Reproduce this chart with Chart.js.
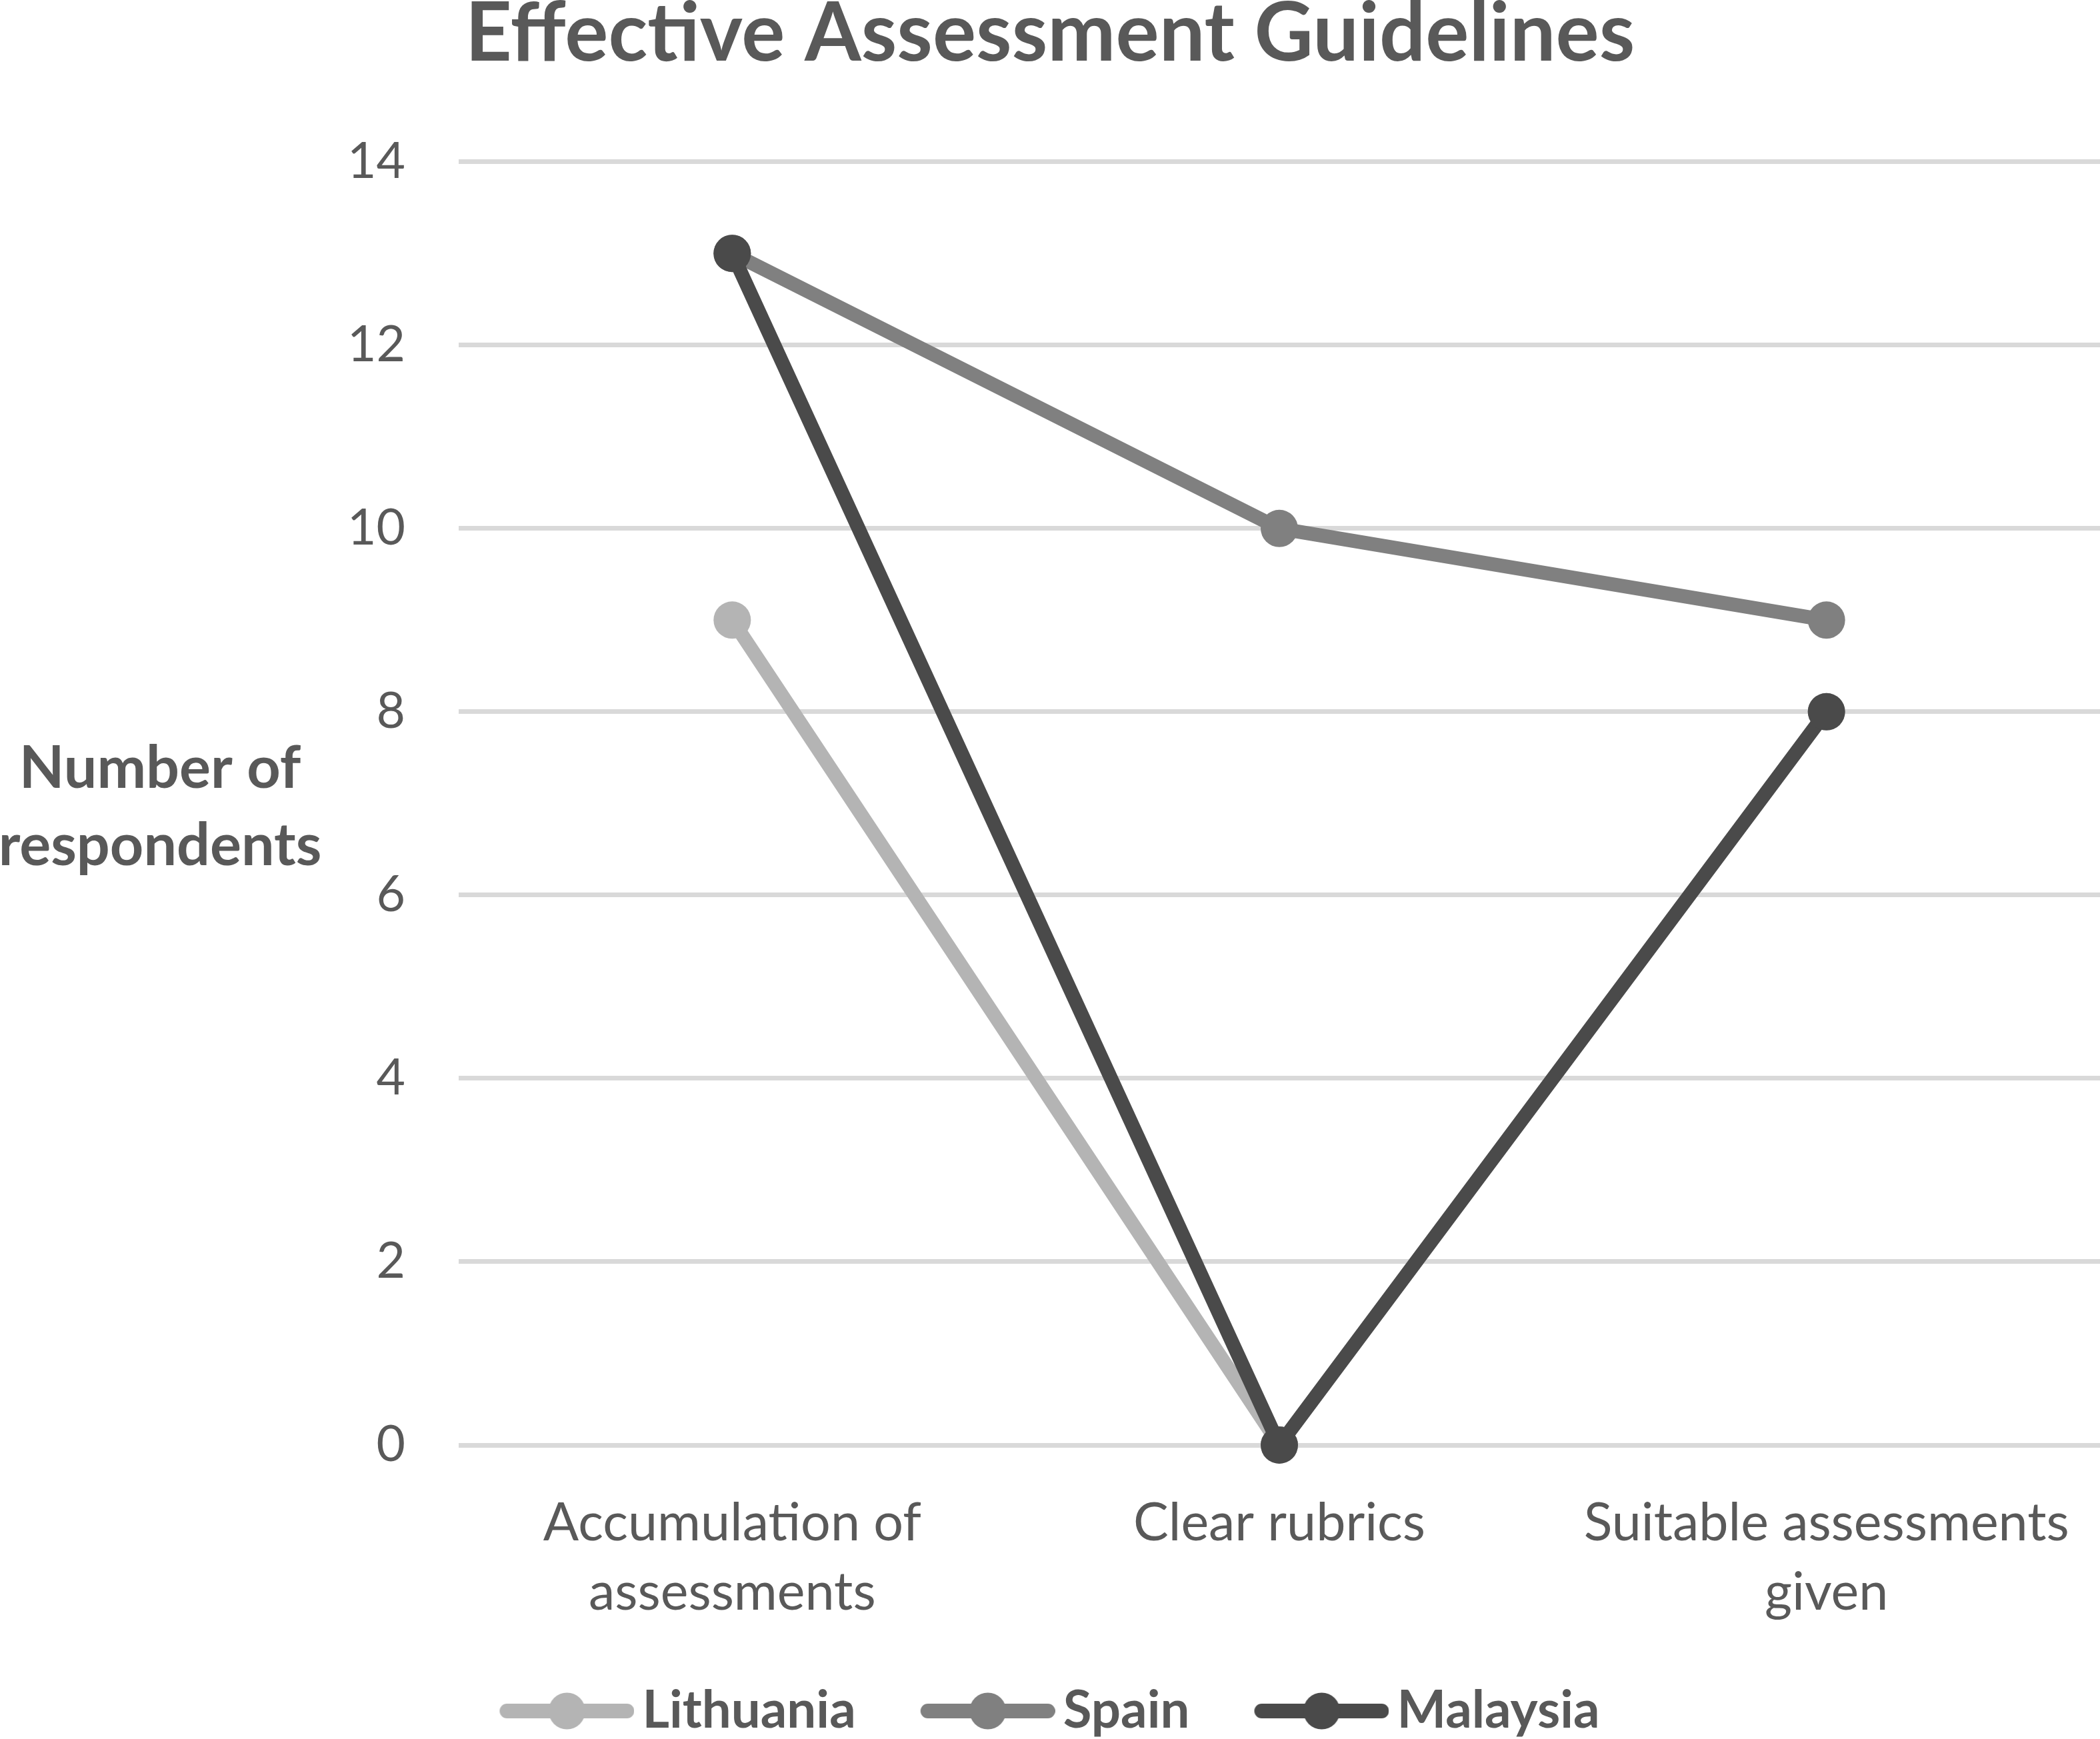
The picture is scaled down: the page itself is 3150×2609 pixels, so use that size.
<!DOCTYPE html>
<html><head><meta charset="utf-8">
<script src="https://cdn.jsdelivr.net/npm/chart.js@4.4.1/dist/chart.umd.min.js"></script>
<style>html,body{margin:0;padding:0;background:#fff}#wrap{width:3150px;height:2609px}</style>
</head><body><div id="wrap"><canvas id="c" width="3150" height="2609"></canvas></div>
<script>
const titleText = "Effective Assessment Guidelines";
const categories = [["Accumulation of", "assessments"], "Clear rubrics", ["Suitable assessments", "given"]];
const seriesNames = ["Lithuania", "Spain", "Malaysia"];
const lithuania = [9, 0, 8];
const spain = [13, 10, 9];
const malaysia = [13, 0, 8];
const yTicks = [0, 2, 4, 6, 8, 10, 12, 14];
const yTitleLines = ["Number of", "respondents"];

const colors = ["#b4b4b4", "#808080", "#4a4a4a"];
const textColor = "#595959";
const FONT = "Lato";

function makeSample(color) {
  const W = 228, H = 64, vis = 202;
  const cv = document.createElement("canvas");
  cv.width = W; cv.height = H;
  const g = cv.getContext("2d");
  const x0 = W - vis;
  g.strokeStyle = color; g.lineWidth = 22; g.lineCap = "round";
  g.beginPath(); g.moveTo(x0 + 11, H / 2); g.lineTo(W - 11, H / 2); g.stroke();
  g.fillStyle = color;
  g.beginPath(); g.arc(x0 + vis / 2, H / 2, 27.5, 0, Math.PI * 2); g.fill();
  return cv;
}

const yTitlePlugin = {
  id: "yTitleHorizontal",
  afterDraw(chart) {
    const ctx = chart.ctx;
    ctx.save();
    ctx.font = "bold 88px " + FONT;
    ctx.fillStyle = textColor;
    ctx.textAlign = "center";
    ctx.textBaseline = "alphabetic";
    ctx.fillText(yTitleLines[0], 240, 1182);
    ctx.fillText(yTitleLines[1], 240, 1298);
    ctx.restore();
  }
};

function build() {
  const series = [lithuania, spain, malaysia];
  const samples = colors.map(makeSample);
  const datasets = series.map((d, i) => ({
    label: seriesNames[i],
    data: d,
    order: series.length - 1 - i,
    borderColor: colors[i],
    backgroundColor: colors[i],
    borderWidth: 21,
    pointRadius: 28,
    pointHoverRadius: 28,
    pointBackgroundColor: colors[i],
    pointBorderWidth: 0,
    pointStyle: "circle",
    tension: 0,
    fill: false,
    clip: false
  }));

  new Chart(document.getElementById("c"), {
    type: "line",
    data: { labels: categories, datasets },
    plugins: [yTitlePlugin],
    options: {
      responsive: false,
      devicePixelRatio: 1,
      animation: false,
      events: [],
      layout: { autoPadding: false, padding: { left: 0, right: 0, top: 0, bottom: 0 } },
      scales: {
        x: {
          offset: true,
          grid: { display: false },
          border: { display: false },
          ticks: {
            color: textColor,
            font: { family: FONT, size: 79, lineHeight: 1.32 },
            padding: 57,
            maxRotation: 0,
            autoSkip: false
          },
          afterFit(s) { s.height = 262; s.paddingLeft = 0; s.paddingRight = 0; }
        },
        y: {
          min: 0,
          max: 14,
          afterBuildTicks(s) { s.ticks = yTicks.map(v => ({ value: v })); },
          grid: { color: "#d9d9d9", lineWidth: 7, drawTicks: false },
          border: { display: false },
          ticks: {
            color: textColor,
            font: { family: FONT, size: 75 },
            padding: 80
          },
          afterFit(s) { s.width = 688; s.paddingTop = 0; s.paddingBottom = 0; }
        }
      },
      plugins: {
        title: {
          display: true,
          text: titleText,
          color: textColor,
          font: { family: FONT, size: 122, weight: "bold", lineHeight: 0.85 },
          padding: { top: 0, bottom: 139 }
        },
        legend: {
          display: true,
          position: "bottom",
          maxHeight: 179,
          labels: {
            usePointStyle: true,
            pointStyleWidth: 174,
            padding: 98,
            color: textColor,
            font: { family: FONT, size: 78, weight: "bold" },
            generateLabels(chart) {
              const items = Chart.defaults.plugins.legend.labels.generateLabels(chart);
              items.sort((a, b) => a.datasetIndex - b.datasetIndex);
              items.forEach(it => { it.pointStyle = samples[it.datasetIndex]; });
              return items;
            }
          }
        },
        tooltip: { enabled: false }
      }
    }
  });
}

Promise.all([
  document.fonts.load("bold 122px " + FONT),
  document.fonts.load("79px " + FONT)
]).then(build, build);
</script>
</body></html>
